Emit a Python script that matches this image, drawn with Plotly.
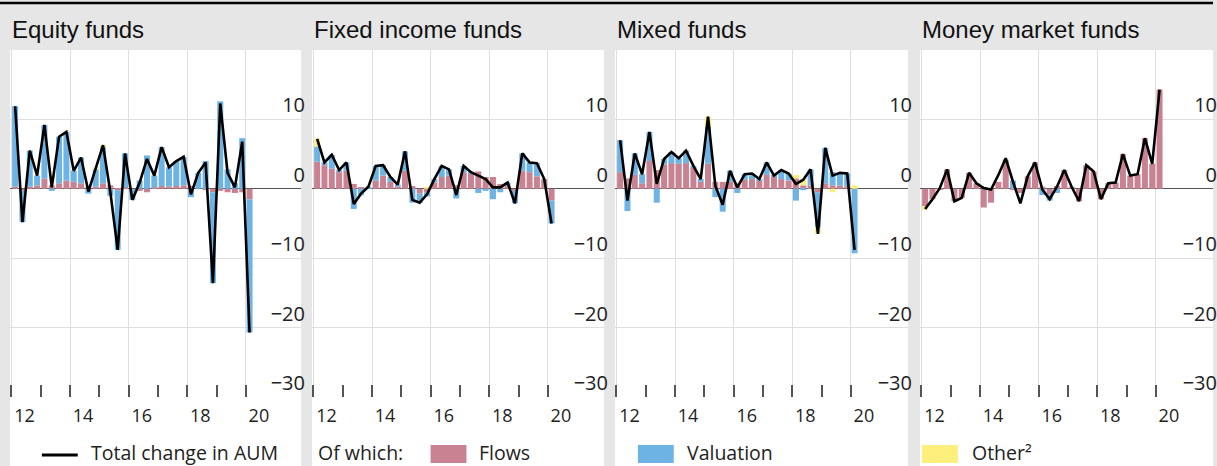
import plotly.graph_objects as go

W, H = 1217, 466

# ---------------- data ----------------
quarters = [f"{y}-Q{q}" for y in range(2012, 2021) for q in range(1, 5)][:33]

panel_titles = ["Equity funds", "Fixed income funds", "Mixed funds", "Money market funds"]
year_ticks = [2012, 2014, 2016, 2018, 2020]
year_labels = ["12", "14", "16", "18", "20"]
y_ticks = [-30, -20, -10, 0, 10]
y_labels = ["\u221230", "\u221220", "\u221210", "0", "10"]

equity_total = [11.9, -4.8, 5.5, 1.9, 9.2, 0.2, 7.5, 8.2, 2.6, 4.5, -0.4, 3.1, 6.3, -0.5, -8.8, 5.1,
                -1.6, 0.9, 4.3, 1.9, 6.0, 3.1, 4.0, 4.6, -0.8, 2.3, 3.8, -13.6, 12.3, 2.3, 0.2, 6.8, -20.7]
equity_flows = [0.3, -0.3, 0.3, 0.5, 1.5, 0.5, 0.8, 1.2, 1.0, 0.8, 0.3, 0.3, 0.8, 0.5, -0.2, 0.2,
                0.0, -0.3, -0.5, 0.2, 0.4, 0.3, 0.4, 0.5, 0.4, 0.0, -0.2, -0.5, -0.3, -0.5, -0.6, -0.5, -1.5]
equity_valuation = [11.6, -4.5, 5.2, 1.4, 7.7, -0.3, 6.7, 7.0, 1.6, 3.7, -0.7, 2.5, 5.2, -1.0, -8.6, 4.9,
                    -1.6, 1.2, 4.8, 1.7, 5.6, 2.8, 3.6, 4.1, -1.2, 2.3, 4.0, -13.1, 12.6, 2.8, 0.8, 7.3, -19.2]
equity_other = [0, 0, 0, 0, 0, 0, 0, 0, 0, 0, 0, 0.3, 0.3, 0, 0, 0,
                0, 0, 0, 0, 0, 0, 0, 0, 0, 0, 0, 0, 0, 0, 0, 0, 0]

fixed_total = [7.2, 3.8, 4.9, 2.7, 3.8, -2.2, -0.7, 0.3, 3.3, 3.4, 1.7, 0.6, 5.4, -1.6, -2.0, -0.8,
               1.4, 3.3, 2.8, -0.9, 3.3, 2.4, 1.9, 1.4, 0.2, 0.2, 0.9, -2.1, 5.1, 3.8, 3.7, 1.4, -5.0]
fixed_flows = [3.9, 3.4, 2.9, 2.4, 2.6, 0.7, 0.2, 0.1, 1.2, 1.9, 1.0, 0.3, 2.6, 0.4, -0.7, -0.5,
               0.9, 1.7, 1.9, 0.5, 2.4, 2.2, 2.5, 1.7, 1.7, 0.7, 0.5, -0.3, 2.6, 2.4, 1.8, 1.4, -1.7]
fixed_valuation = [2.2, 0.4, 2.0, 0.3, 1.2, -2.9, -0.9, 0.2, 2.1, 1.5, 0.7, 0.3, 2.8, -2.0, -1.3, -0.6,
                   0.5, 1.6, 0.9, -1.4, 0.9, 0.2, -0.6, -0.3, -1.5, -0.5, 0.4, -1.8, 2.5, 1.4, 1.9, 0.0, -3.3]
fixed_other = [1.1, 0, 0, 0, 0, 0, 0, 0, 0, 0, 0, 0, 0, 0, 0, 0.3,
               0, 0, 0, 0, 0, 0, 0, 0, 0, 0, 0, 0, 0, 0, 0, 0, 0]

mixed_total = [7.0, -1.7, 5.1, 2.1, 8.2, 0.7, 4.3, 5.3, 4.4, 5.5, 3.3, 1.4, 10.4, 0.4, -2.3, 2.6,
               0.2, 2.1, 2.2, 1.4, 3.8, 1.9, 2.7, 2.2, 0.7, 1.3, 2.8, -6.5, 5.9, 1.9, 2.3, 2.2, -8.8]
mixed_flows = [2.4, 1.5, 2.0, 0.8, 4.0, 2.7, 3.5, 3.7, 3.6, 3.7, 3.0, 1.0, 3.6, 1.0, 1.0, 1.0,
               0.8, 1.3, 1.4, 1.2, 2.0, 1.7, 1.4, 1.2, 1.5, 0.5, 0.5, -0.5, 0.8, 0.5, 0.5, 0.3, 0.0]
mixed_valuation = [4.6, -3.2, 3.1, 1.3, 4.2, -2.0, 0.8, 1.6, 0.8, 1.8, 0.3, 0.4, 5.3, -1.2, -3.3, 1.6,
                   -0.6, 0.8, 0.8, 0.2, 1.8, 0.2, 1.3, 1.0, -1.7, -0.2, 2.3, -5.0, 5.1, 1.9, 1.8, 1.9, -9.3]
mixed_other = [0, 0, 0, 0, 0, 0, 0, 0, 0, 0, 0, 0, 1.5, 0, 0, 0,
               0, 0, 0, 0, 0, 0, 0, 0, 0.5, 1.0, 0, -1.0, 0, -0.5, 0, 0, 0.5]

mmf_total = [-2.9, -1.5, 0.1, 2.8, -1.8, -1.3, 2.3, 0.8, 0.1, -0.1, 2.0, 4.4, 1.0, -2.1, 1.8, 3.8,
             -0.1, -1.5, 0.3, 2.7, 0.3, -1.8, 3.4, 2.5, -1.5, 0.8, 0.9, 5.0, 1.9, 2.1, 7.3, 3.6, 14.3]
mmf_flows = [-2.5, -1.5, -0.1, 2.8, -1.8, -1.3, 2.3, 0.8, -2.7, -2.0, 1.0, 4.2, -0.2, -0.6, 1.8, 3.8,
             0.3, -0.8, 0.4, 2.7, 0.3, -1.8, 3.4, 2.5, -1.5, 0.8, 0.9, 5.0, 1.9, 2.1, 7.3, 3.6, 14.3]
mmf_valuation = [0, 0, 0, 0, 0, 0, 0, 0, 0, 0, 0, 0, 1.2, 0, 0, 0,
                 -0.9, -0.9, -0.6, 0, 0, 0, 0, 0, 0, 0, 0, 0, 0, 0, 0, 0, 0]
mmf_other = [-0.5, 0, 0, 0, 0, 0, 0, 0, 0, 0, 0, 0, 0, 0, 0, 0,
             0, 0, 0, 0, 0, 0, 0, 0, 0, 0, 0, 0, 0, 0, 0, 0, 0]

panels = [
    (equity_total, equity_flows, equity_valuation, equity_other),
    (fixed_total, fixed_flows, fixed_valuation, fixed_other),
    (mixed_total, mixed_flows, mixed_valuation, mixed_other),
    (mmf_total, mmf_flows, mmf_valuation, mmf_other),
]

# ---------------- styling ----------------
BG = "#e6e6e6"
C_FLOWS = "#c98291"
C_VAL = "#6db4e4"
C_OTHER = "#fcef7c"
GRID = "#dedede"
FONT = "Open Sans"

panels_px = [(10, 302), (313, 606), (617, 911), (923, 1217)]
PLOT_TOP, PLOT_BOTTOM = 50, 397
PX_PER_YEAR = 29.4


def px_x(p):
    return p / W


def px_y(p):
    return 1 - p / H


# quarter midpoints on a year scale
x_pos = [int(q[:4]) + (int(q[-1]) - 0.5) / 4 for q in quarters]

fig = go.Figure()
layout = dict(
    width=W, height=H,
    margin=dict(l=0, r=0, t=0, b=0),
    paper_bgcolor=BG, plot_bgcolor="white",
    barmode="relative", bargap=0.18,
    showlegend=False,
    font=dict(family=FONT, size=18, color="#222"),
)

shapes = []
annotations = []

for i, ((total, flows, val, other), (x0p, x1p)) in enumerate(zip(panels, panels_px)):
    n = "" if i == 0 else str(i + 1)
    xa, ya = "x" + n, "y" + n
    for vals, col, name in [(flows, C_FLOWS, "Flows"), (val, C_VAL, "Valuation"), (other, C_OTHER, "Other")]:
        fig.add_trace(go.Bar(x=x_pos, y=vals, marker=dict(color=col, line=dict(width=0)),
                             name=name, xaxis=xa, yaxis=ya))
    fig.add_trace(go.Scatter(x=x_pos, y=total, mode="lines", line=dict(color="black", width=2.6),
                             name="Total change in AUM", xaxis=xa, yaxis=ya))

    wpx = x1p - x0p
    r0 = 2012 - 1.5 / PX_PER_YEAR
    r1 = r0 + wpx / PX_PER_YEAR
    layout["xaxis" + n] = dict(
        domain=[px_x(x0p), px_x(x1p)], anchor=ya, range=[r0, r1],
        tickvals=year_ticks, ticktext=year_labels,
        ticklabelshift=13, ticklabelstandoff=6,
        ticks="inside", ticklen=12, tickwidth=1.5, tickcolor="#555",
        showgrid=True, gridcolor=GRID, gridwidth=1,
        minor=dict(dtick=1, tick0=2012, ticks="inside", ticklen=12, tickwidth=1.5,
                   tickcolor="#555", showgrid=False),
        showline=False, zeroline=False,
        tickfont=dict(family=FONT, size=18, color="#222"),
        fixedrange=True,
    )
    layout["yaxis" + n] = dict(
        domain=[px_y(PLOT_BOTTOM), px_y(PLOT_TOP)], anchor=xa, range=[-30, 20],
        side="right", ticklabelposition="inside top", ticklabelstandoff=-7,
        tickvals=y_ticks, ticktext=y_labels,
        showgrid=True, gridcolor=GRID, gridwidth=1,
        zeroline=True, zerolinecolor="#555", zerolinewidth=1.4,
        ticks="", showline=False,
        tickfont=dict(family=FONT, size=20, color="#222"),
        fixedrange=True,
    )
    # white panel background
    shapes.append(dict(type="rect", xref="paper", yref="paper",
                       x0=px_x(x0p), x1=px_x(x1p), y0=0, y1=px_y(PLOT_TOP),
                       fillcolor="white", line=dict(width=0), layer="below"))
    # panel title
    annotations.append(dict(text=panel_titles[i], xref="paper", yref="paper",
                            x=px_x(x0p), y=px_y(30), xanchor="left", yanchor="middle",
                            showarrow=False,
                            font=dict(family="Liberation Sans", size=24, color="#111")))

# top rule
shapes.append(dict(type="line", xref="paper", yref="paper", x0=0, x1=1,
                   y0=px_y(3), y1=px_y(3), line=dict(color="black", width=2.5)))

# legend (drawn manually to match the swatch sizes)
LEG_Y = 452
shapes.append(dict(type="line", xref="paper", yref="paper", x0=px_x(42), x1=px_x(78),
                   y0=px_y(LEG_Y + 3), y1=px_y(LEG_Y + 3), line=dict(color="black", width=3)))
for (bx, col) in [(432, C_FLOWS), (640, C_VAL), (925, C_OTHER)]:
    shapes.append(dict(type="rect", xref="paper", yref="paper",
                       x0=px_x(bx), x1=px_x(bx + 36), y0=px_y(LEG_Y + 11), y1=px_y(LEG_Y - 7),
                       fillcolor=col, line=dict(width=0)))
for (tx, txt) in [(89, "Total change in AUM"), (317, "Of which:"), (479, "Flows"),
                  (687, "Valuation"), (973, "Other\u00b2")]:
    annotations.append(dict(text=txt, xref="paper", yref="paper", x=px_x(tx), y=px_y(LEG_Y),
                            xanchor="left", yanchor="middle", showarrow=False,
                            font=dict(family=FONT, size=19.5, color="#222")))

layout["shapes"] = shapes
layout["annotations"] = annotations
fig.update_layout(**layout)

fig.write_html("out.html", config={"displayModeBar": False},
               post_script="document.body.style.margin='0';")
